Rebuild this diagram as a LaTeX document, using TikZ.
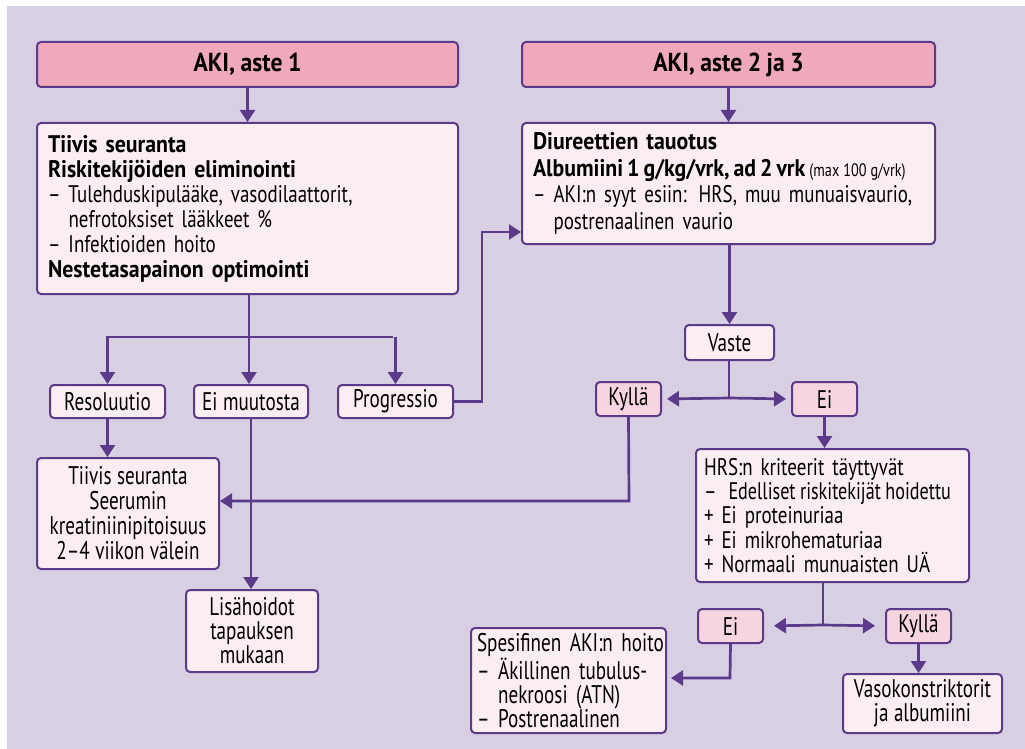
\documentclass[tikz,border=0pt]{standalone}
\usepackage{fontspec}
\setmainfont{PT Sans}[FakeStretch=0.79, BoldFeatures={FakeStretch=0.91}]
\newfontfamily\bigf{PT Sans}[FakeStretch=0.75]
\newfontfamily\narf{PT Sans}[FakeStretch=0.755]
\usetikzlibrary{arrows.meta}
\definecolor{bg}{HTML}{D8CFE3}
\definecolor{hdr}{HTML}{EFA9BB}
\definecolor{lbox}{HTML}{FAEEF1}
\definecolor{pbox}{HTML}{F6D5DF}
\definecolor{pur}{HTML}{5B3A8A}
\newcommand\oneline[1]{\mbox{#1}}
\newcommand\tightsp{\spaceskip=5.5pt plus 1pt minus 1pt\relax}
\tikzset{
  box/.style={draw=pur, line width=2pt, rounded corners=4pt, fill=lbox, anchor=north west, inner sep=0pt, font=\fontsize{24}{25}\selectfont\tightsp},
  hdrbox/.style={box, fill=hdr, font=\bfseries\fontsize{26}{28}\selectfont\tightsp},
  ynbox/.style={box, fill=pbox, font=\bigf\fontsize{25.5}{25.5}\selectfont\tightsp},
  leftbox/.style={box, align=left, inner xsep=11pt},
  cbox/.style={box, align=center, font=\bigf\fontsize{25.5}{25}\selectfont\tightsp},
  conn/.style={draw=pur, line width=2.7pt},
  arr/.style={conn, -{Triangle[length=12pt,width=15pt]}},
}
\begin{document}
\begin{tikzpicture}[x=1pt,y=-1pt]
\fill[white] (0,0) rectangle (1025,749);
\fill[bg] (7,6) rectangle (1025,749);
\useasboundingbox (0,0) rectangle (1025,749);

\node[hdrbox, minimum width=421pt, minimum height=45pt] (h1) at (36,41) {AKI, aste 1};
\node[hdrbox, minimum width=413pt, minimum height=45pt] (h2) at (521,41) {AKI, aste 2 ja 3};

\node[leftbox, minimum width=421pt, minimum height=171pt, text width=399pt] (b1) at (36,122)
 {\oneline{\textbf{Tiivis seuranta}}\\\oneline{\textbf{Riskitekijöiden eliminointi}}\\\oneline{– Tulehduskipulääke, vasodilaattorit,}\\\oneline{\phantom{– }nefrotoksiset lääkkeet \%}\\\oneline{– Infektioiden hoito}\\\oneline{\textbf{Nestetasapainon optimointi}}};
\node[leftbox, minimum width=413pt, minimum height=121pt, text width=391pt, font=\fontsize{24}{26.5}\selectfont\tightsp] (b2) at (521,122)
 {\oneline{\textbf{Diureettien tauotus}}\\\oneline{\spaceskip=4pt plus 1pt\relax\textbf{Albumiini 1 g/kg/vrk, ad 2 vrk} {\fontsize{18}{20}\selectfont\spaceskip=4pt plus 1pt\relax(max 100 g/vrk)}}\\\oneline{– AKI:n syyt esiin: HRS, muu munuaisvaurio,}\\\oneline{\phantom{– }postrenaalinen vaurio}};

\node[cbox, minimum width=115pt, minimum height=33pt] (res) at (49,384) {Resoluutio};
\node[cbox, minimum width=114pt, minimum height=33pt] (eim) at (193,384) {Ei muutosta};
\node[cbox, minimum width=115pt, minimum height=33pt] (prog) at (337,384) {Progressio};

\node[cbox, minimum width=182pt, minimum height=111pt] (tl) at (36,457)
 {Tiivis seuranta\\Seerumin\\kreatiniinipitoisuus\\2–4 viikon välein};
\node[cbox, minimum width=132pt, minimum height=82pt, font=\bigf\fontsize{25.5}{24}\selectfont\tightsp] (lis) at (185,589)
 {Lisähoidot\\tapauksen\\mukaan};

\node[cbox, minimum width=89pt, minimum height=35pt] (vaste) at (684,324) {Vaste};
\node[ynbox, minimum width=65pt, minimum height=34pt] (ky1) at (595,381) {Kyllä};
\node[ynbox, minimum width=65pt, minimum height=34pt] (ei1) at (791,381) {Ei};

\node[leftbox, minimum width=273pt, minimum height=133pt, text width=257pt, inner xsep=8pt, font=\fontsize{24}{24.2}\selectfont\tightsp] (hrs) at (695,448)
 {\oneline{HRS:n kriteerit täyttyvät}\\\oneline{–\hspace{0.5em}{\narf\spaceskip=4.5pt plus 1pt\relax Edelliset riskitekijät hoidettu}}\\\oneline{+ Ei proteinuriaa}\\\oneline{+ Ei mikrohematuriaa}\\\oneline{+ Normaali munuaisten UÄ}};

\node[ynbox, minimum width=65pt, minimum height=34pt] (ei2) at (697,608) {Ei};
\node[ynbox, minimum width=65pt, minimum height=34pt] (ky2) at (885,608) {Kyllä};

\node[leftbox, minimum width=195pt, minimum height=105pt, text width=183pt, inner xsep=6pt, font=\bigf\fontsize{25.5}{24}\selectfont\tightsp] (spes) at (470,627)
 {\oneline{Spesifinen AKI:n hoito}\\\oneline{– Äkillinen tubulus-}\\\oneline{\phantom{– }nekroosi (ATN)}\\\oneline{– Postrenaalinen}};
\node[cbox, minimum width=159pt, minimum height=59pt, font=\bigf\fontsize{25.5}{24}\selectfont\tightsp] (vaso) at (842,673)
 {Vasokonstriktorit\\ja albumiini};

% connectors
\draw[arr] (h1.south) -- (b1.north);
\draw[arr] (h2.south) -- (b2.north);

\coordinate (j1) at (249,337);
\draw[conn] (j1 |- b1.south) -- (j1);
\draw[conn] (106,337) -- (393,337);
\draw[arr] (j1) -- (j1 |- eim.north);
\draw[arr] (res.north |- j1) -- (res.north);
\draw[arr] (prog.north |- j1) -- (prog.north);

\coordinate (pk) at (482,232);
\draw[arr] (prog.east) -| (pk) -- (pk -| b2.west);

\draw[arr] (res.south) -- (res.south |- tl.north);
\draw[arr] (eim.south) -- (eim.south |- lis.north);

\draw[arr] (vaste.north |- b2.south) -- (vaste.north);
\coordinate (vs) at (729,398);
\draw[conn] (vs |- vaste.south) -- (vs);
\draw[arr, shorten >=5pt] (vs) -- (ky1.east);
\draw[arr, shorten >=5pt] (vs) -- (ei1.west);

\coordinate (kk) at (629,501);
\draw[arr] (ky1.south) -- (kk) -- (kk -| tl.east);

\draw[arr] (ei1.south) -- (ei1.south |- hrs.north);

\coordinate (hs) at (823,625);
\draw[conn] (hs |- hrs.south) -- (hs);
\draw[arr, shorten >=10pt] (hs) -- (ei2.east);
\draw[arr, shorten >=10pt] (hs) -- (ky2.west);

\coordinate (ek) at (730,678);
\draw[arr, shorten >=4pt] (ei2.south) -- (ek) -- (ek -| spes.east);
\draw[arr] (ky2.south) -- (ky2.south |- vaso.north);
\end{tikzpicture}
\end{document}
